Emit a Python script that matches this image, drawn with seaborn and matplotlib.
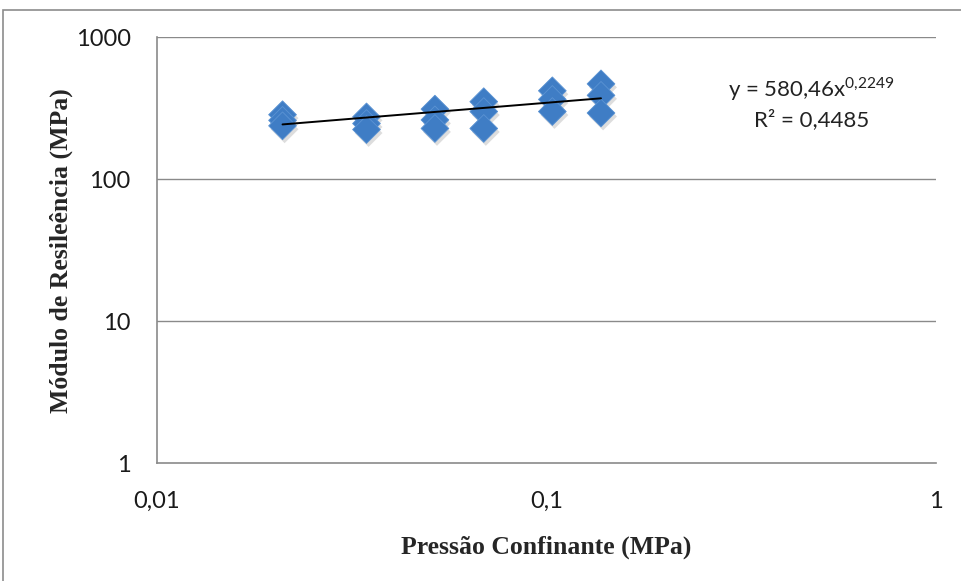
import matplotlib
matplotlib.use("Agg")
import matplotlib.pyplot as plt
import matplotlib.patheffects as pe
from matplotlib.patches import Rectangle
from matplotlib.ticker import FixedLocator, NullLocator
import numpy as np
import pandas as pd
import seaborn as sns

# Confining pressure (MPa) and resilient modulus (MPa) for each test stage
pressao = [0.021, 0.021, 0.021,
           0.0345, 0.0345, 0.0345,
           0.0517, 0.0517, 0.0517,
           0.069, 0.069, 0.069,
           0.1035, 0.1035, 0.1035,
           0.138, 0.138, 0.138]
modulo = [285, 260, 238,
          275, 247, 224,
          312, 262, 228,
          352, 300, 228,
          420, 365, 300,
          470, 390, 293]

# Power trendline reported on the chart
coef_a = 580.46
coef_b = 0.2249
r2 = 0.4485

x_ticks = [0.01, 0.1, 1]
x_labels = ["0,01", "0,1", "1"]
y_ticks = [1, 10, 100, 1000]
y_labels = ["1", "10", "100", "1000"]

df = pd.DataFrame({"Pressão": pressao, "Módulo": modulo})

sns.set_style("white")
plt.rcParams["font.family"] = ["Lato", "DejaVu Sans"]
plt.rcParams["mathtext.fontset"] = "custom"
plt.rcParams["mathtext.rm"] = "Lato"

fig = plt.figure(figsize=(9.61, 5.81), dpi=100)
ax = fig.add_axes([0.1634, 0.2026, 0.974 - 0.1634, 0.9358 - 0.2026])

# chart frame (top and left edges fall inside the image)
fig.patches.append(Rectangle((3 / 961, -10 / 581), 975 / 961, 581 / 581,
                             transform=fig.transFigure, fill=False,
                             edgecolor="#8c8c8c", linewidth=1.2))

ax.set_xscale("log")
ax.set_yscale("log")
ax.set_xlim(0.01, 1)
ax.set_ylim(1, 1000)

for yv in [10, 100, 1000]:
    ax.axhline(yv, color="#8a8a8a", linewidth=1.0, zorder=0)

sns.scatterplot(data=df, x="Pressão", y="Módulo", ax=ax, marker="D", s=200,
                color="#3f7dc5", edgecolor="#5b93d3", linewidth=0.6,
                legend=False, zorder=3,
                path_effects=[pe.SimplePatchShadow(offset=(1.5, -2.5),
                                                   shadow_rgbFace="#7a7a7a",
                                                   alpha=0.25),
                              pe.Normal()])

xs = np.linspace(min(pressao), max(pressao), 60)
ax.plot(xs, coef_a * xs ** coef_b, color="black", linewidth=1.4, zorder=4)

ax.text(0.84, 0.879, "y = 580,46x$^{0{,}2249}$", transform=ax.transAxes,
        ha="center", va="center", fontsize=16, color="#222222")
ax.text(0.84, 0.806, "R² = 0,4485", transform=ax.transAxes,
        ha="center", va="center", fontsize=16, color="#222222")

ax.xaxis.set_major_locator(FixedLocator(x_ticks))
ax.xaxis.set_minor_locator(NullLocator())
ax.yaxis.set_major_locator(FixedLocator(y_ticks))
ax.yaxis.set_minor_locator(NullLocator())
ax.set_xticklabels(x_labels)
ax.set_yticklabels(y_labels)
ax.tick_params(axis="both", which="major", direction="out", length=6,
               width=1.0, color="#8a8a8a", labelsize=17,
               labelcolor="#1a1a1a")
ax.tick_params(axis="x", pad=14)
ax.tick_params(axis="y", pad=13)

for side in ["top", "right"]:
    ax.spines[side].set_visible(False)
for side in ["left", "bottom"]:
    ax.spines[side].set_color("#8a8a8a")
    ax.spines[side].set_linewidth(1.2)

ax.set_xlabel("Pressão Confinante (MPa)", family="Liberation Serif",
              fontweight="bold", fontsize=18.5, labelpad=17)
ax.set_ylabel("Módulo de Resileência (MPa)", family="Liberation Serif",
              fontweight="bold", fontsize=18.5, labelpad=2)

fig.savefig("out.png", dpi=100)
